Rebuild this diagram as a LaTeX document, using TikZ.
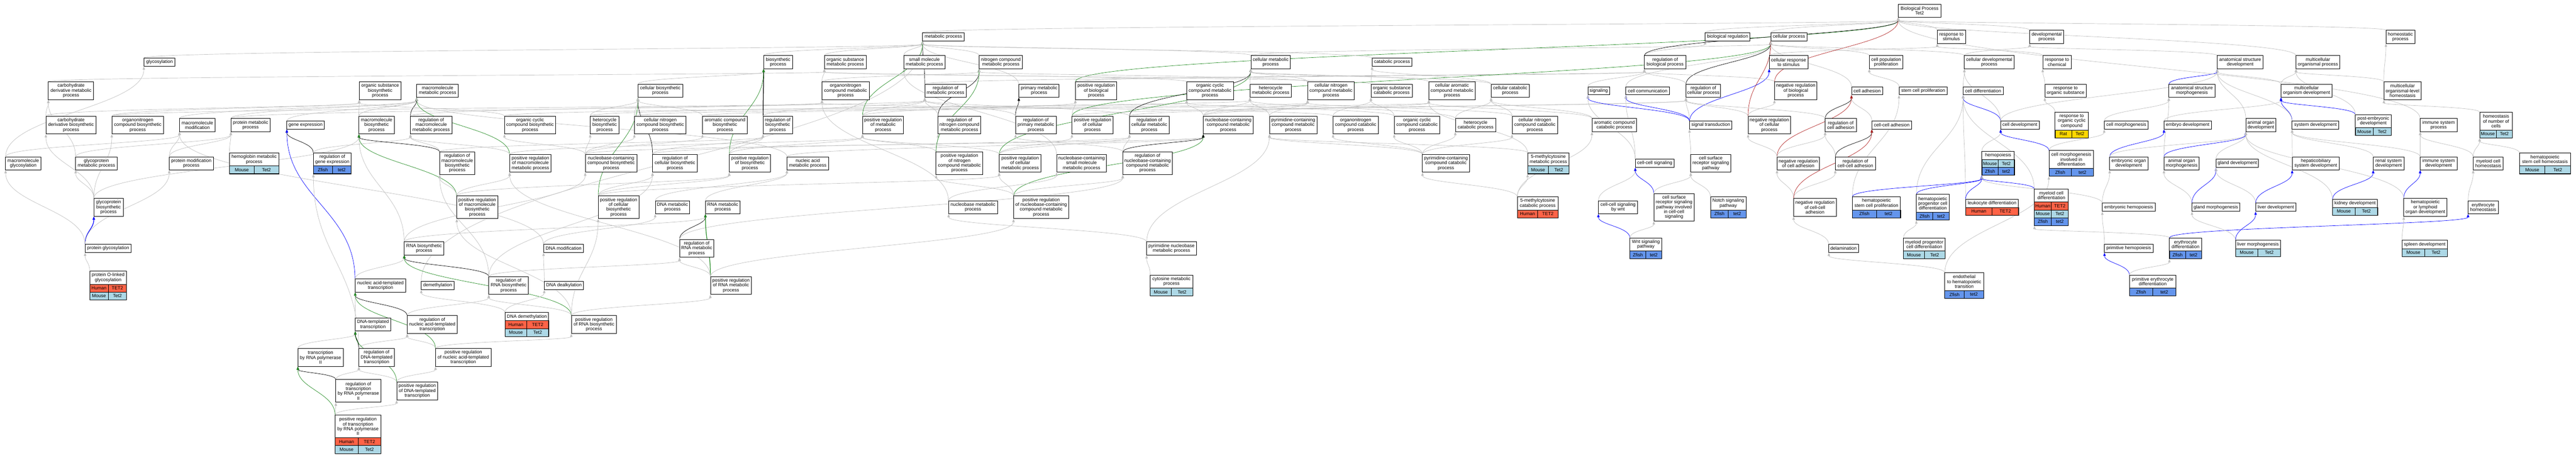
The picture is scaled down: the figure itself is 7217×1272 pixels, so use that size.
\documentclass[tikz,border=0pt]{standalone}
\usepackage{fontspec}
\setmainfont{Liberation Sans}
\usetikzlibrary{arrows.meta,calc}
\pgfdeclarelayer{background}
\pgfsetlayers{background,main}
\definecolor{hum}{HTML}{FF6347}
\definecolor{mou}{HTML}{ADD8E6}
\definecolor{zfi}{HTML}{6495ED}
\definecolor{rat}{HTML}{FFD700}
\definecolor{egray}{HTML}{C0C0C0}
\definecolor{egreen}{HTML}{228B22}
\definecolor{ered}{HTML}{B22222}
\definecolor{eblue}{HTML}{0000FF}
\newcommand\gofont{\fontsize{13}{13.5}\selectfont}
\tikzset{
 gobox/.style={draw=black,line width=1.3pt,fill=white,inner sep=1pt,align=center,font=\gofont},
 gotitle/.style={fill=white,inner sep=1pt,align=center,font=\gofont},
 gocell/.style={draw=black,line width=1pt,inner sep=0pt,font=\gofont,minimum height=22},
 goframe/.style={draw=black,line width=1.3pt,inner sep=0pt},
 gedge/.style={line width=1pt,-{Triangle[length=9pt,width=7pt]}},
 eis/.style={draw=egray},
 ereg/.style={draw=black},
 epos/.style={draw=egreen},
 eneg/.style={draw=ered},
 epart/.style={draw=eblue},
 ethick/.style={line width=1.8pt},
}
\newcommand{\gonode}[6]{%
 \pgfmathsetmacro\gohh{9.5+13.5*#5}%
 \node[gobox,minimum width=#4,minimum height=\gohh] (#1) at (#2,-#3) {#6};}
\newcommand{\gotab}[8]{%
 \pgfmathsetmacro\goth{9.5+13.5*#5}%
 \pgfmathsetmacro\gotot{\goth+22*#6}%
 \pgfmathsetmacro\goytop{#3-\gotot/2}%
 \pgfmathsetmacro\gohw{#4/2}%
 \pgfmathsetmacro\goyt{\goytop+\goth/2}%
 \node[gotitle,minimum width=#4,minimum height=\goth] (#1-t) at (#2,-\goyt) {#7};
 \foreach \la/\lb/\col [count=\i] in {#8} {%
   \pgfmathsetmacro\goyy{\goytop+\goth+22*(\i-1)+11}%
   \node[gocell,fill=\col,minimum width=\gohw] (#1-a\i) at (#2-#4/4,-\goyy) {\la};
   \node[gocell,fill=\col,minimum width=\gohw] (#1-b\i) at (#2+#4/4,-\goyy) {\lb};
 }
 \node[goframe,minimum width=#4,minimum height=\gotot] (#1) at (#2,-#3) {};}
\newcommand{\goedge}[3][eis]{%
 \draw[gedge,#1] let \p1=(#2.center), \p2=(#3.center),
   \p3=(#2.north west), \p4=(#2.north east),
   \p5=(#3.south west), \p6=(#3.south east),
   \n1={max(0.15,min(0.85,0.5+((\x2)-(\x1))/600))},
   \n2={max(0.15,min(0.85,0.5+((\x1)-(\x2))/600))},
   \n3={0.45*((\y5)-(\y3))}
   in ($(\p3)!\n1!(\p4)$) .. controls ($(\p3)!\n1!(\p4)+(0,\n3)$) and ($(\p5)!\n2!(\p6)-(0,\n3)$) .. ($(\p5)!\n2!(\p6)$);}
\begin{document}
\begin{tikzpicture}[x=1pt,y=1pt]
\useasboundingbox (0,0) rectangle (7217,-1272);
% ---- rank A / B
\gonode{root}{5378}{30}{119}{2}{Biological Process\\Tet2}
\gonode{metp}{2643}{103}{116}{1}{metabolic process}
\gonode{bioreg}{4840}{103}{125}{1}{biological regulation}
\gonode{cellp}{5012}{103}{102}{1}{cellular process}
\gonode{respstim}{5467}{103}{79}{2}{response to\\stimulus}
\gonode{devp}{5734}{103}{95}{2}{developmental\\process}
\gonode{homeo}{6725}{103}{81}{2}{homeostatic\\process}
% ---- rank C
\gonode{glyc}{447}{174}{87}{1}{glycosylation}
\gonode{biosyn}{2180}{174}{81}{2}{biosynthetic\\process}
\gonode{osmp}{2368}{174}{117}{2}{organic substance\\metabolic process}
\gonode{smmp}{2590}{174}{116}{2}{small molecule\\metabolic process}
\gonode{ncmp}{2804}{174}{121}{2}{nitrogen compound\\metabolic process}
\gonode{cellmet}{3560}{174}{111}{2}{cellular metabolic\\process}
\gonode{catab}{3900}{174}{112}{1}{catabolic process}
\gonode{regbio}{4665}{174}{116}{2}{regulation of\\biological process}
\gonode{crs}{5011}{174}{108}{2}{cellular response\\to stimulus}
\gonode{cpp}{5284}{174}{94}{2}{cell population\\proliferation}
\gonode{cdp}{5573}{174}{139}{2}{cellular developmental\\process}
\gonode{rchem}{5763}{174}{80}{2}{response to\\chemical}
\gonode{asd}{6276}{174}{128}{2}{anatomical structure\\development}
\gonode{mop}{6494}{174}{123}{2}{multicellular\\organismal process}
% ---- rank D
\gonode{cdmp}{199}{254}{127}{3}{carbohydrate\\derivative metabolic\\process}
\gonode{osbp}{1065}{254}{117}{3}{organic substance\\biosynthetic\\process}
\gonode{mmp}{1226}{254}{117}{2}{macromolecule\\metabolic process}
\gonode{cbp}{1850}{254}{125}{2}{cellular biosynthetic\\process}
\gonode{oncmp}{2369}{254}{132}{3}{organonitrogen\\compound metabolic\\process}
\gonode{regmet}{2649}{254}{116}{2}{regulation of\\metabolic process}
\gonode{primet}{2911}{254}{113}{2}{primary metabolic\\process}
\gonode{prbp}{3071}{254}{116}{3}{positive regulation\\of biological\\process}
\gonode{occmp}{3390}{254}{131}{3}{organic cyclic\\compound metabolic\\process}
\gonode{hetmp}{3560}{254}{116}{2}{heterocycle\\metabolic process}
\gonode{cncmp}{3729}{254}{131}{3}{cellular nitrogen\\compound metabolic\\process}
\gonode{oscp}{3899}{254}{116}{2}{organic substance\\catabolic process}
\gonode{cacmp}{4068}{254}{130}{3}{cellular aromatic\\compound metabolic\\process}
\gonode{ccatp}{4231}{254}{107}{2}{cellular catabolic\\process}
\gonode{signaling}{4479}{254}{61}{1}{signaling}
\gonode{cellcomm}{4616}{254}{122}{1}{cell communication}
\gonode{regcp}{4772}{254}{97}{2}{regulation of\\cellular process}
\gonode{nrbp}{5031}{254}{119}{3}{negative regulation\\of biological\\process}
\gonode{celladh}{5231}{254}{87}{1}{cell adhesion}
\gonode{scp}{5388}{254}{135}{1}{stem cell proliferation}
\gonode{celldiff}{5556}{254}{112}{1}{cell differentiation}
\gonode{rorg}{5787}{254}{116}{2}{response to\\organic substance}
\gonode{asm}{6141}{254}{129}{2}{anatomical structure\\morphogenesis}
\gonode{mod}{6462}{254}{143}{2}{multicellular\\organism development}
\gonode{molh}{6731}{254}{105}{3}{multicellular\\organismal-level\\homeostasis}
% ---- rank E
\gonode{cdbp}{199}{350}{141}{3}{carbohydrate\\derivative biosynthetic\\process}
\gonode{oncbp}{386}{350}{145}{3}{organonitrogen\\compound biosynthetic\\process}
\gonode{mmod}{553}{350}{100}{2}{macromolecule\\modification}
\gonode{pmp}{702}{350}{110}{2}{protein metabolic\\process}
\gonode{geneexp}{856}{350}{105}{1}{gene expression}
\gonode{mbp}{1055}{350}{99}{3}{macromolecule\\biosynthetic\\process}
\gonode{rmmp}{1208}{350}{116}{3}{regulation of\\macromolecule\\metabolic process}
\gonode{occbp}{1485}{350}{144}{3}{organic cyclic\\compound biosynthetic\\process}
\gonode{hetbp}{1694}{350}{81}{3}{heterocycle\\biosynthetic\\process}
\gonode{cncbp}{1850}{350}{145}{3}{cellular nitrogen\\compound biosynthetic\\process}
\gonode{acbp}{2031}{350}{125}{3}{aromatic compound\\biosynthetic\\process}
\gonode{rbp}{2179}{350}{82}{3}{regulation of\\biosynthetic\\process}
\gonode{prmp}{2474}{350}{115}{3}{positive regulation\\of metabolic\\process}
\gonode{rncmp}{2688}{350}{120}{3}{regulation of\\nitrogen compound\\metabolic process}
\gonode{rpmp}{2902}{350}{114}{3}{regulation of\\primary metabolic\\process}
\gonode{prcp}{3061}{350}{115}{3}{positive regulation\\of cellular\\process}
\gonode{rcmp}{3220}{350}{111}{3}{regulation of\\cellular metabolic\\process}
\gonode{nbccmp}{3441}{350}{139}{3}{nucleobase-containing\\compound metabolic\\process}
\gonode{pccmp}{3623}{350}{133}{3}{pyrimidine-containing\\compound metabolic\\process}
\gonode{onccp}{3798}{350}{127}{3}{organonitrogen\\compound catabolic\\process}
\gonode{occcp}{3970}{350}{128}{3}{organic cyclic\\compound catabolic\\process}
\gonode{hetcp}{4134}{350}{113}{2}{heterocycle\\catabolic process}
\gonode{cnccp}{4300}{350}{127}{3}{cellular nitrogen\\compound catabolic\\process}
\gonode{accp}{4523}{350}{125}{2}{aromatic compound\\catabolic process}
\gonode{sigtrans}{4793}{350}{119}{1}{signal transduction}
\gonode{nrcp}{4957}{350}{119}{3}{negative regulation\\of cellular\\process}
\gonode{rcadh}{5157}{350}{87}{2}{regulation of\\cell adhesion}
\gonode{ccadh}{5300}{350}{111}{1}{cell-cell adhesion}
\gonode{celldev}{5659}{350}{108}{1}{cell development}
\gotab{rocc}{5804}{350}{93}{3}{1}{response to\\organic cyclic\\compound}{Rat/Tet2/rat}
\gonode{cellmorph}{5957}{350}{123}{1}{cell morphogenesis}
\gonode{embdev}{6129}{350}{132}{1}{embryo development}
\gonode{aod}{6334}{350}{84}{2}{animal organ\\development}
\gonode{sysdev}{6487}{350}{131}{1}{system development}
\gotab{ped}{6649}{350}{100}{2}{1}{post-embryonic\\development}{Mouse/Tet2/mou}
\gonode{isp}{6832}{350}{103}{2}{immune system\\process}
\gotab{hnc}{6993}{350}{92}{3}{1}{homeostasis\\of number of\\cells}{Mouse/Tet2/mou}
% ---- rank F
\gonode{mglyc}{65}{457}{99}{2}{macromolecule\\glycosylation}
\gonode{gpmp}{270}{457}{116}{2}{glycoprotein\\metabolic process}
\gonode{pmodp}{536}{457}{123}{2}{protein modification\\process}
\gotab{hemo}{712}{457}{138}{2}{1}{hemoglobin metabolic\\process}{Mouse/Tet2/mou}
\gotab{rge}{931}{457}{106}{2}{1}{regulation of\\gene expression}{Zfish/tet2/zfi}
\gonode{rmbp}{1281}{457}{98}{4}{regulation of\\macromolecule\\biosynthetic\\process}
\gonode{prmmp}{1486}{457}{116}{3}{positive regulation\\of macromolecule\\metabolic process}
\gonode{nbccbp}{1712}{457}{144}{3}{nucleobase-containing\\compound biosynthetic\\process}
\gonode{rcbp}{1891}{457}{125}{3}{regulation of\\cellular biosynthetic\\process}
\gonode{prbiop}{2101}{457}{115}{3}{positive regulation\\of biosynthetic\\process}
\gonode{namp}{2263}{457}{116}{2}{nucleic acid\\metabolic process}
\gonode{prncmp}{2688}{457}{131}{4}{positive regulation\\of nitrogen\\compound metabolic\\process}
\gonode{prcmp}{2858}{457}{117}{3}{positive regulation\\of cellular\\metabolic process}
\gonode{nbcsmmp}{3030}{457}{139}{3}{nucleobase-containing\\small molecule\\metabolic process}
\gonode{rnbccmp}{3215}{457}{138}{4}{regulation of\\nucleobase-containing\\compound metabolic\\process}
\gonode{pcccp}{4051}{457}{132}{3}{pyrimidine-containing\\compound catabolic\\process}
\gotab{mcmp}{4338}{457}{116}{2}{1}{5-methylcytosine\\metabolic process}{Mouse/Tet2/mou}
\gonode{ccsig}{4636}{457}{109}{1}{cell-cell signaling}
\gonode{csrsp}{4793}{457}{112}{3}{cell surface\\receptor signaling\\pathway}
\gonode{nrcadh}{5038}{457}{119}{2}{negative regulation\\of cell adhesion}
\gonode{rccadh}{5198}{457}{112}{2}{regulation of\\cell-cell adhesion}
\gotab{hemop}{5598}{457}{91}{1}{2}{hemopoiesis}{Mouse/Tet2/mou,Zfish/tet2/zfi}
\gotab{cmid}{5803}{457}{125}{3}{1}{cell morphogenesis\\involved in\\differentiation}{Zfish/tet2/zfi}
\gonode{eod}{5964}{457}{107}{2}{embryonic organ\\development}
\gonode{aom}{6112}{457}{99}{2}{animal organ\\morphogenesis}
\gonode{glanddev}{6268}{457}{119}{1}{gland development}
\gonode{hsd}{6488}{457}{132}{2}{hepaticobiliary\\system development}
\gonode{rsd}{6692}{457}{86}{2}{renal system\\development}
\gonode{isd}{6832}{457}{103}{2}{immune system\\development}
\gonode{mch}{6971}{457}{84}{2}{myeloid cell\\homeostasis}
\gotab{hsch}{7130}{457}{143}{2}{1}{hematopoietic\\stem cell homeostasis}{Mouse/Tet2/mou}
% ---- rank G
\gonode{gpbp}{304}{580}{82}{3}{glycoprotein\\biosynthetic\\process}
\gonode{prmbp}{1337}{580}{115}{4}{positive regulation\\of macromolecule\\biosynthetic\\process}
\gonode{prcbp}{1733}{580}{114}{4}{positive regulation\\of cellular\\biosynthetic\\process}
\gonode{dnamp}{1884}{580}{96}{2}{DNA metabolic\\process}
\gonode{rnamp}{2025}{580}{97}{2}{RNA metabolic\\process}
\gonode{nbmp}{2726}{580}{137}{2}{nucleobase metabolic\\process}
\gonode{prnbccmp}{2917}{580}{154}{4}{positive regulation\\of nucleobase-containing\\compound metabolic\\process}
\gotab{mccp}{4308}{580}{114}{2}{1}{5-methylcytosine\\catabolic process}{Human/TET2/hum}
\gonode{ccswnt}{4533}{580}{110}{2}{cell-cell signaling\\by wnt}
\gonode{csrspcc}{4690}{580}{113}{5}{cell surface\\receptor signaling\\pathway involved\\in cell-cell\\signaling}
\gotab{notch}{4842}{580}{100}{2}{1}{Notch signaling\\pathway}{Zfish/tet2/zfi}
\gonode{nrccadh}{5085}{580}{120}{3}{negative regulation\\of cell-cell\\adhesion}
\gotab{hscp}{5257}{580}{135}{2}{1}{hematopoietic\\stem cell proliferation}{Zfish/tet2/zfi}
\gotab{hpcd}{5415}{580}{92}{3}{1}{hematopoietic\\progenitor cell\\differentiation}{Zfish/tet2/zfi}
\gotab{leukd}{5581}{580}{148}{1}{1}{leukocyte differentiation}{Human/TET2/hum}
\gotab{mycd}{5747}{580}{95}{2}{3}{myeloid cell\\differentiation}{Human/TET2/hum,Mouse/Tet2/mou,Zfish/tet2/zfi}
\gonode{embhemo}{5964}{580}{148}{1}{embryonic hemopoiesis}
\gonode{glandm}{6208}{580}{134}{1}{gland morphogenesis}
\gonode{liverdev}{6376}{580}{113}{1}{liver development}
\gotab{kidney}{6598}{580}{126}{1}{1}{kidney development}{Mouse/Tet2/mou}
\gonode{hlod}{6795}{580}{121}{3}{hematopoietic\\or lymphoid\\organ development}
\gonode{eryh}{6957}{580}{84}{2}{erythrocyte\\homeostasis}
% ---- rank H
\gonode{pglyc}{303}{695}{129}{1}{protein glycosylation}
\gonode{rnabp}{1188}{695}{111}{2}{RNA biosynthetic\\process}
\gonode{dnamod}{1579}{695}{112}{1}{DNA modification}
\gonode{rrnamp}{1952}{695}{96}{3}{regulation of\\RNA metabolic\\process}
\gonode{pnbmp}{3282}{695}{139}{2}{pyrimidine nucleobase\\metabolic process}
\gotab{wnt}{4611}{695}{89}{2}{1}{Wnt signaling\\pathway}{Zfish/tet2/zfi}
\gonode{delam}{5165}{695}{83}{1}{delamination}
\gotab{mpcd}{5391}{695}{116}{2}{1}{myeloid progenitor\\cell differentiation}{Mouse/Tet2/mou}
\gonode{primhemo}{5964}{695}{136}{1}{primitive hemopoiesis}
\gotab{eryd}{6123}{695}{90}{2}{1}{erythrocyte\\differentiation}{Zfish/tet2/zfi}
\gotab{liverm}{6326}{695}{126}{1}{1}{liver morphogenesis}{Mouse/Tet2/mou}
\gotab{spleen}{6793}{695}{127}{1}{1}{spleen development}{Mouse/Tet2/mou}
% ---- rank I
\gotab{polg}{303}{799}{103}{2}{2}{protein O-linked\\glycosylation}{Human/TET2/hum,Mouse/Tet2/mou}
\gonode{natt}{1066}{799}{142}{2}{nucleic acid-templated\\transcription}
\gonode{demeth}{1226}{799}{92}{1}{demethylation}
\gonode{rrnabp}{1425}{799}{111}{3}{regulation of\\RNA biosynthetic\\process}
\gonode{dnadealk}{1580}{799}{110}{1}{DNA dealkylation}
\gonode{prrnamp}{2048}{799}{115}{3}{positive regulation\\of RNA metabolic\\process}
\gotab{cytmp}{3282}{799}{119}{2}{1}{cytosine metabolic\\process}{Mouse/Tet2/mou}
\gotab{eht}{5503}{799}{109}{3}{1}{endothelial\\to hematopoietic\\transition}{Zfish/tet2/zfi}
\gotab{pryd}{6031}{799}{130}{2}{1}{primitive erythrocyte\\differentiation}{Zfish/tet2/zfi}
% ---- rank J..M
\gonode{dtt}{1045}{908}{99}{2}{DNA-templated\\transcription}
\gonode{rnatt}{1211}{908}{140}{3}{regulation of\\nucleic acid-templated\\transcription}
\gotab{dnademeth}{1476}{908}{122}{1}{2}{DNA demethylation}{Human/TET2/hum,Mouse/Tet2/mou}
\gonode{prrnabp}{1664}{908}{126}{3}{positive regulation\\of RNA biosynthetic\\process}
\gonode{trp2}{898}{1000}{127}{3}{transcription\\by RNA polymerase\\II}
\gonode{rdtt}{1055}{1000}{99}{3}{regulation of\\DNA-templated\\transcription}
\gonode{prnatt}{1298}{1000}{155}{3}{positive regulation\\of nucleic acid-templated\\transcription}
\gonode{rtrp2}{1004}{1094}{126}{4}{regulation of\\transcription\\by RNA polymerase\\II}
\gonode{prdtt}{1169}{1094}{115}{3}{positive regulation\\of DNA-templated\\transcription}
\gotab{prtrp2}{1003}{1215}{128}{4}{2}{positive regulation\\of transcription\\by RNA polymerase\\II}{Human/TET2/hum,Mouse/Tet2/mou}
% ================= edges
\begin{pgfonlayer}{background}
\fill[white] (0,0) rectangle (7217,-1272);
\goedge{mglyc}{glyc}
\goedge{mglyc}{mmod}
\goedge{glyc}{metp}
\goedge{cdmp}{osmp}
\goedge{cdbp}{cdmp}
\goedge{cdbp}{osbp}
\goedge{oncbp}{osbp}
\goedge{oncbp}{oncmp}
\goedge{mmod}{mmp}
\goedge{gpmp}{cdmp}
\goedge{gpmp}{pmp}
\goedge{pmodp}{mmod}
\goedge{pmodp}{pmp}
\goedge{gpbp}{gpmp}
\goedge{gpbp}{cdbp}
\goedge{gpbp}{oncbp}
\goedge{gpbp}{mbp}
\goedge[epart,ethick]{pglyc}{gpbp}
\goedge{pglyc}{mglyc}
\goedge{pglyc}{pmodp}
\goedge{polg}{pglyc}
\goedge{pmp}{mmp}
\goedge{pmp}{oncmp}
\goedge{hemo}{pmp}
\goedge{geneexp}{mmp}
\goedge[ereg]{rge}{geneexp}
\goedge{rge}{rmmp}
\goedge[epart]{natt}{geneexp}
\goedge{natt}{rnabp}
\goedge{mbp}{osbp}
\goedge{mbp}{mmp}
\goedge{rnabp}{mbp}
\goedge{rnabp}{nbccbp}
\goedge{rnabp}{rnamp}
\goedge{demeth}{metp}
\goedge[ereg]{rmbp}{mbp}
\goedge{rmbp}{rmmp}
\goedge{rmbp}{rbp}
\goedge[epos]{prmbp}{mbp}
\goedge{prmbp}{rmbp}
\goedge{prmbp}{prmmp}
\goedge{prmbp}{prbiop}
\goedge[ereg]{rmmp}{mmp}
\goedge{rmmp}{regmet}
\goedge[epos]{prmmp}{mmp}
\goedge{prmmp}{rmmp}
\goedge{prmmp}{prmp}
\goedge[ereg]{rnatt}{natt}
\goedge{rnatt}{rrnabp}
\goedge{dtt}{natt}
\goedge{trp2}{dtt}
\goedge[ereg,ethick]{rdtt}{dtt}
\goedge{rdtt}{rnatt}
\goedge{rdtt}{rge}
\goedge[ereg]{rtrp2}{trp2}
\goedge{rtrp2}{rdtt}
\goedge{prdtt}{rdtt}
\goedge[epos]{prdtt}{dtt}
\goedge{prdtt}{prnatt}
\goedge{prtrp2}{rtrp2}
\goedge[epos]{prtrp2}{trp2}
\goedge{prtrp2}{prdtt}
\goedge{occbp}{osbp}
\goedge{occbp}{occmp}
\goedge{hetbp}{cbp}
\goedge{hetbp}{hetmp}
\goedge{nbccbp}{hetbp}
\goedge{nbccbp}{occbp}
\goedge{nbccbp}{cncbp}
\goedge{nbccbp}{acbp}
\goedge{nbccbp}{nbccmp}
\goedge[ereg]{rcbp}{cbp}
\goedge{rcbp}{rbp}
\goedge{rcbp}{rcmp}
\goedge[epos]{prcbp}{cbp}
\goedge{prcbp}{rcbp}
\goedge{prcbp}{prbiop}
\goedge{prcbp}{prcmp}
\goedge[ereg]{rrnabp}{rnabp}
\goedge{rrnabp}{rmbp}
\goedge{rrnabp}{rcbp}
\goedge{rrnabp}{rrnamp}
\goedge{prrnabp}{rrnabp}
\goedge[epos]{prrnabp}{rnabp}
\goedge{prrnabp}{prcbp}
\goedge{prrnabp}{prmbp}
\goedge{prrnabp}{prrnamp}
\goedge{dnademeth}{demeth}
\goedge{dnademeth}{dnadealk}
\goedge{dnadealk}{dnamod}
\goedge{dnamod}{mmod}
\goedge{dnamod}{dnamp}
\goedge{prnatt}{rnatt}
\goedge[epos]{prnatt}{natt}
\goedge{prnatt}{prrnabp}
\goedge{cbp}{biosyn}
\goedge{biosyn}{metp}
\goedge[ereg,ethick]{rbp}{biosyn}
\goedge{rbp}{regmet}
\goedge[epos]{prbiop}{biosyn}
\goedge{prbiop}{rbp}
\goedge{prbiop}{prmp}
\goedge{cncbp}{cbp}
\goedge{cncbp}{cncmp}
\goedge{acbp}{cbp}
\goedge{acbp}{cacmp}
\goedge{namp}{mmp}
\goedge{namp}{nbccmp}
\goedge{dnamp}{namp}
\goedge{rnamp}{namp}
\goedge[ereg]{rrnamp}{rnamp}
\goedge{rrnamp}{rnbccmp}
\goedge[epos,ethick]{prrnamp}{rnamp}
\goedge{prrnamp}{rrnamp}
\goedge{prrnamp}{prmmp}
\goedge{prrnamp}{prnbccmp}
\goedge{oncmp}{osmp}
\goedge{oncmp}{ncmp}
\goedge{osmp}{metp}
\goedge{smmp}{metp}
\goedge{nbcsmmp}{smmp}
\goedge{ncmp}{metp}
\goedge[ereg]{regmet}{metp}
\goedge{regmet}{regbio}
\goedge{primet}{metp}
\goedge[ereg]{rpmp}{primet}
\goedge{rpmp}{regmet}
\goedge{rncmp}{regmet}
\goedge[ereg]{rncmp}{ncmp}
\goedge[epos]{prmp}{metp}
\goedge{prmp}{regmet}
\goedge{prmp}{prbp}
\goedge{prncmp}{rncmp}
\goedge[epos]{prncmp}{ncmp}
\goedge{prncmp}{prmp}
\goedge{prcmp}{prmp}
\goedge{prcmp}{rcmp}
\goedge[epos]{prcmp}{cellmet}
\goedge{prcmp}{prcp}
\goedge{prnbccmp}{prcmp}
\goedge{prnbccmp}{prncmp}
\goedge[epos]{prnbccmp}{nbccmp}
\goedge{prnbccmp}{rnbccmp}
\goedge{nbmp}{nbcsmmp}
\goedge{nbmp}{oncmp}
\goedge{pnbmp}{nbmp}
\goedge{pnbmp}{pccmp}
\goedge{cytmp}{pnbmp}
\goedge[epos]{prbp}{root}
\goedge{prbp}{regbio}
\goedge[epos]{prcp}{cellp}
\goedge{prcp}{prbp}
\goedge{prcp}{regcp}
\goedge[ereg]{rcmp}{cellmet}
\goedge{rcmp}{regmet}
\goedge{rcmp}{regcp}
\goedge{rnbccmp}{rcmp}
\goedge[ereg]{rnbccmp}{nbccmp}
\goedge{rnbccmp}{rpmp}
\goedge{nbccmp}{occmp}
\goedge{nbccmp}{hetmp}
\goedge{nbccmp}{cacmp}
\goedge{nbccmp}{cncmp}
\goedge{hetmp}{cellmet}
\goedge{occmp}{osmp}
\goedge{pccmp}{hetmp}
\goedge{pccmp}{cncmp}
\goedge{cellmet}{metp}
\goedge{cellmet}{cellp}
\goedge{cncmp}{ncmp}
\goedge{cncmp}{cellmet}
\goedge{cacmp}{cellmet}
\goedge{oscp}{catab}
\goedge{oscp}{osmp}
\goedge{catab}{metp}
\goedge{ccatp}{catab}
\goedge{ccatp}{cellmet}
\goedge{onccp}{oscp}
\goedge{onccp}{oncmp}
\goedge{occcp}{oscp}
\goedge{occcp}{occmp}
\goedge{hetcp}{ccatp}
\goedge{hetcp}{hetmp}
\goedge{pcccp}{onccp}
\goedge{pcccp}{occcp}
\goedge{pcccp}{hetcp}
\goedge{pcccp}{pccmp}
\goedge{pcccp}{cnccp}
\goedge{cnccp}{ccatp}
\goedge{cnccp}{cncmp}
\goedge{accp}{ccatp}
\goedge{accp}{cacmp}
\goedge{mcmp}{cacmp}
\goedge{mcmp}{pccmp}
\goedge{mccp}{mcmp}
\goedge{mccp}{accp}
\goedge{mccp}{pcccp}
\goedge{regbio}{bioreg}
\goedge[ereg]{regbio}{root}
\goedge{signaling}{regbio}
\goedge{cellcomm}{cellp}
\goedge{regcp}{regbio}
\goedge[ereg]{regcp}{cellp}
\goedge[epart]{sigtrans}{signaling}
\goedge[epart]{sigtrans}{cellcomm}
\goedge{sigtrans}{regcp}
\goedge[epart]{sigtrans}{crs}
\goedge{ccsig}{cellcomm}
\goedge{ccsig}{signaling}
\goedge{csrsp}{sigtrans}
\goedge{ccswnt}{ccsig}
\goedge[epart]{csrspcc}{ccsig}
\goedge{csrspcc}{csrsp}
\goedge[epart]{wnt}{ccswnt}
\goedge{wnt}{csrspcc}
\goedge{notch}{csrsp}
\goedge{bioreg}{root}
\goedge{cellp}{root}
\goedge{crs}{cellp}
\goedge{crs}{respstim}
\goedge{cpp}{cellp}
\goedge[eneg]{nrbp}{root}
\goedge{nrbp}{regbio}
\goedge{celladh}{cellp}
\goedge{scp}{cpp}
\goedge{nrcp}{nrbp}
\goedge{nrcp}{regcp}
\goedge[eneg]{nrcp}{cellp}
\goedge[ereg]{rcadh}{celladh}
\goedge{rcadh}{regcp}
\goedge{ccadh}{celladh}
\goedge[eneg]{nrcadh}{celladh}
\goedge{nrcadh}{nrcp}
\goedge{nrcadh}{rcadh}
\goedge{rccadh}{rcadh}
\goedge[ereg]{rccadh}{ccadh}
\goedge{nrccadh}{nrcadh}
\goedge{nrccadh}{rccadh}
\goedge[eneg]{nrccadh}{ccadh}
\goedge{delam}{nrccadh}
\goedge{hscp}{scp}
\goedge[epart]{hscp}{hemop}
\goedge{hpcd}{celldiff}
\goedge[epart]{hpcd}{hemop}
\goedge{mpcd}{hpcd}
\goedge{respstim}{root}
\goedge{devp}{root}
\goedge{cdp}{devp}
\goedge{cdp}{cellp}
\goedge{rchem}{respstim}
\goedge{rorg}{rchem}
\goedge{rocc}{rorg}
\goedge{celldiff}{cdp}
\goedge[epart]{celldev}{celldiff}
\goedge{celldev}{cdp}
\goedge{celldev}{asd}
\goedge{hemop}{celldev}
\goedge{leukd}{celldiff}
\goedge[epart]{leukd}{hemop}
\goedge{mycd}{celldiff}
\goedge[epart]{mycd}{hemop}
\goedge[epart]{cmid}{celldev}
\goedge{cmid}{cellmorph}
\goedge{eht}{cmid}
\goedge{eht}{delam}
\goedge{cellmorph}{asm}
\goedge[epart]{eod}{embdev}
\goedge{eod}{aod}
\goedge{embhemo}{eod}
\goedge{embhemo}{hemop}
\goedge{primhemo}{embhemo}
\goedge[epart]{pryd}{primhemo}
\goedge{pryd}{eryd}
\goedge{eryd}{mycd}
\goedge[epart]{eryd}{eryh}
\goedge{asd}{devp}
\goedge{mop}{root}
\goedge[epart]{asm}{asd}
\goedge{mod}{mop}
\goedge{mod}{asd}
\goedge{embdev}{mod}
\goedge{aod}{asd}
\goedge[epart]{sysdev}{mod}
\goedge{sysdev}{asd}
\goedge[epart]{ped}{mod}
\goedge{ped}{mop}
\goedge[epart]{aom}{aod}
\goedge{aom}{asm}
\goedge{glanddev}{aod}
\goedge{hsd}{sysdev}
\goedge{kidney}{aod}
\goedge[epart]{kidney}{rsd}
\goedge{glandm}{aom}
\goedge[epart]{glandm}{glanddev}
\goedge{liverdev}{glanddev}
\goedge[epart]{liverdev}{hsd}
\goedge[epart]{liverm}{liverdev}
\goedge{liverm}{glandm}
\goedge{homeo}{root}
\goedge{molh}{homeo}
\goedge{molh}{mop}
\goedge{isp}{root}
\goedge{isd}{isp}
\goedge{isd}{sysdev}
\goedge{rsd}{sysdev}
\goedge[epart]{hlod}{isd}
\goedge{hlod}{aod}
\goedge{spleen}{hlod}
\goedge{mch}{isp}
\goedge{mch}{hnc}
\goedge{eryh}{mch}
\goedge{hnc}{molh}
\goedge{hsch}{hnc}
\goedge{metp}{root}
\end{pgfonlayer}
\end{tikzpicture}
\end{document}
